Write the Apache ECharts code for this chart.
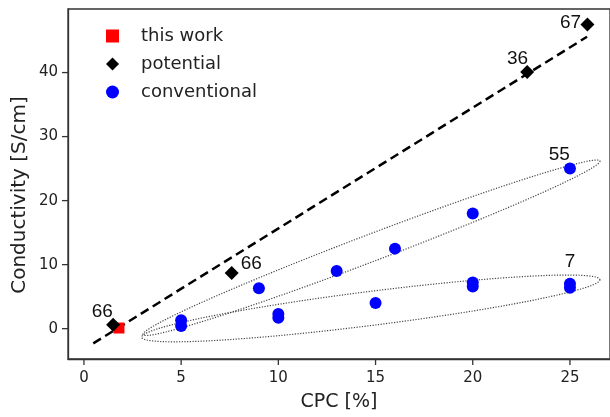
<!DOCTYPE html>
<html>
<head>
<meta charset="utf-8">
<script src="https://cdn.jsdelivr.net/npm/echarts@6/dist/echarts.min.js"></script>
<style>
  html, body { margin: 0; padding: 0; background: #fff; }
  #chart { width: 610px; height: 417px; }
</style>
</head>
<body>
<div id="chart"></div>
<script>
// tick values
const xTicks = [0, 5, 10, 15, 20, 25];
const yTicks = [0, 10, 20, 30, 40];

// [CPC %, conductivity S/cm]
const thisWork = [[1.8, 0.1]];
const potential = [[1.5, 0.6], [7.6, 8.7], [22.8, 40.1], [25.9, 47.5]];
const conventional = [
    [5, 1.3], [5, 0.4], [9, 6.3], [10, 2.3], [10, 1.7], [13, 9.0], [15, 4.0],
    [16, 12.5], [20, 18.0], [20, 7.2], [20, 6.6], [25, 25.0], [25, 7.0], [25, 6.4]
];

// dashed trend line end points
const trendLine = [[0.48, -2.3], [25.88, 45.6]];

// reference numbers written next to points
const notes = [
    [0.94, 2.67, '66'], [8.61, 10.13, '66'], [22.3, 42.16, '36'],
    [25.03, 47.72, '67'], [24.45, 27.12, '55'], [25.0, 10.39, '7']
];

// dotted ellipses: left tip x, y, right tip x, y
const groupEllipses = [[3.04, -0.93, 26.54, 26.2], [2.97, -1.34, 26.54, 7.66]];

const X_MIN = -0.82, X_MAX = 27.06;
const Y_MIN = -4.74, Y_MAX = 49.93;
const ellipseHalfWidth = [13.5, 17];
const axisColor = '#333';
const textColor = '#222';

function renderEllipse(params, api) {
    const p1 = api.coord([api.value(0), api.value(1)]);
    const p2 = api.coord([api.value(2), api.value(3)]);
    const cx = (p1[0] + p2[0]) / 2, cy = (p1[1] + p2[1]) / 2;
    const a = Math.hypot(p2[0] - p1[0], p2[1] - p1[1]) / 2;
    const ang = Math.atan2(p2[1] - p1[1], p2[0] - p1[0]);
    const b = ellipseHalfWidth[params.dataIndex];
    const pts = [];
    for (let i = 0; i < 240; i++) {
        const t = Math.PI * 2 * i / 240;
        const ex = a * Math.cos(t), ey = b * Math.sin(t);
        pts.push([cx + ex * Math.cos(ang) - ey * Math.sin(ang), cy + ex * Math.sin(ang) + ey * Math.cos(ang)]);
    }
    return {
        type: 'polygon',
        shape: { points: pts },
        style: { fill: 'none', stroke: '#444', lineWidth: 1.2, lineDash: [1.2, 1.5] }
    };
}

// outward tick marks (axisTick did not show up on the grid edge)
const tickData = xTicks.map(v => [v, 0]).concat(yTicks.map(v => [v, 1]));
function renderTick(params, api) {
    const v = api.value(0);
    const isY = api.value(1) === 1;
    const p = isY ? api.coord([X_MIN, v]) : api.coord([v, Y_MIN]);
    const shape = isY
        ? { x1: p[0] - 6, y1: p[1], x2: p[0], y2: p[1] }
        : { x1: p[0], y1: p[1], x2: p[0], y2: p[1] + 6 };
    return { type: 'line', shape: shape, style: { stroke: axisColor, lineWidth: 1.3 } };
}

const myChart = echarts.init(document.getElementById('chart'), null, { renderer: 'canvas' });

myChart.setOption({
    animation: false,
    grid: {
        left: 68, top: 9, width: 544, height: 354,
        show: true, borderColor: axisColor, borderWidth: 1.3, backgroundColor: 'transparent'
    },
    // y axis title sits a bit below the plot middle in the original
    graphic: [{
        type: 'text',
        x: 20, y: 195,
        rotation: Math.PI / 2,
        style: {
            text: 'Conductivity [S/cm]',
            fontFamily: 'DejaVu Sans', fontSize: 20, fill: textColor,
            align: 'center', verticalAlign: 'middle'
        }
    }],
    legend: {
        orient: 'vertical',
        left: 101, top: 21,
        itemWidth: 13, itemHeight: 13, itemGap: 8,
        textStyle: { fontFamily: 'DejaVu Sans', fontSize: 18, color: textColor, lineHeight: 20, padding: [0, 0, 0, 17] },
        data: [
            { name: 'this work', icon: 'rect' },
            { name: 'potential', icon: 'diamond' },
            { name: 'conventional', icon: 'circle' }
        ]
    },
    xAxis: {
        type: 'value',
        min: X_MIN, max: X_MAX,
        name: 'CPC [%]',
        nameLocation: 'middle', nameGap: 34,
        nameTextStyle: { fontFamily: 'DejaVu Sans', fontSize: 19, color: textColor },
        axisLine: { show: true, onZero: false, lineStyle: { color: axisColor, width: 1.3 } },
        splitLine: { show: false },
        axisTick: { show: false },
        axisLabel: { customValues: xTicks, margin: 12, fontFamily: 'DejaVu Sans', fontSize: 15, color: textColor }
    },
    yAxis: {
        type: 'value',
        min: Y_MIN, max: Y_MAX,
        axisLine: { show: true, onZero: false, lineStyle: { color: axisColor, width: 1.3 } },
        splitLine: { show: false },
        axisTick: { show: false },
        axisLabel: { customValues: yTicks, margin: 10, fontFamily: 'DejaVu Sans', fontSize: 15, color: textColor }
    },
    series: [
        {
            name: 'ticks',
            type: 'custom',
            renderItem: renderTick,
            data: tickData,
            clip: false,
            silent: true,
            z: 1
        },
        {
            name: 'groups',
            type: 'custom',
            renderItem: renderEllipse,
            data: groupEllipses,
            silent: true,
            z: 1
        },
        {
            name: 'trend',
            type: 'line',
            data: trendLine,
            symbol: 'none',
            lineStyle: { color: '#000', width: 2.5, type: [9, 5] },
            silent: true,
            z: 2
        },
        {
            name: 'this work',
            type: 'scatter',
            data: thisWork,
            symbol: 'rect',
            symbolSize: 11,
            itemStyle: { color: '#ff0000', opacity: 1 },
            z: 3
        },
        {
            name: 'potential',
            type: 'scatter',
            data: potential,
            symbol: 'diamond',
            symbolSize: 14,
            itemStyle: { color: '#000', opacity: 1 },
            z: 4
        },
        {
            name: 'conventional',
            type: 'scatter',
            data: conventional,
            symbol: 'circle',
            symbolSize: 12,
            itemStyle: { color: '#0000ff', opacity: 1 },
            z: 5
        },
        {
            name: 'notes',
            type: 'scatter',
            data: notes,
            symbolSize: 0,
            silent: true,
            itemStyle: { opacity: 1 },
            label: {
                show: true,
                position: 'inside',
                formatter: p => p.value[2],
                fontFamily: 'Liberation Sans',
                fontSize: 19,
                color: '#111',
                textBorderWidth: 0
            },
            z: 6
        }
    ]
});
</script>
</body>
</html>
